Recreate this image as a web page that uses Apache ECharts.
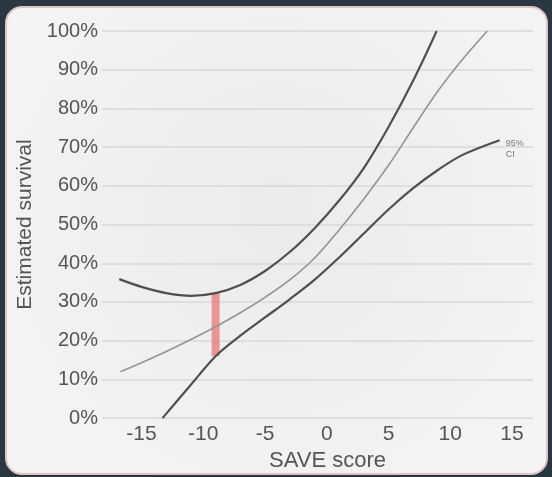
<!DOCTYPE html>
<html>
<head>
<meta charset="utf-8">
<script src="https://cdn.jsdelivr.net/npm/echarts@6/dist/echarts.min.js"></script>
<style>
  html, body { margin: 0; padding: 0; background: #283740; }
  #chart { width: 552px; height: 477px; }
</style>
</head>
<body>
<div id="chart"></div>
<script>
// SAVE score vs estimated survival (%), with 95% confidence band
const upperX = [-16.8, -15, -13, -11, -9, -7, -5, -3, -1, 1, 3, 5, 7, 8.9];
const upperY = [35.9, 33.9, 32.3, 31.6, 32.3, 34.4, 38.0, 42.9, 49.0, 56.2, 64.6, 75.2, 87.2, 100];

const estX = [-16.7, -15, -13, -11, -9, -7, -5, -3, -1, 1, 3, 5, 7, 9, 11, 13];
const estY = [12.0, 14.3, 17.2, 20.3, 23.6, 27.2, 31.2, 35.7, 41.3, 48.6, 56.6, 65.3, 75.0, 84.5, 92.7, 100];

const lowerX = [-13.3, -11, -9, -7, -5, -3, -1, 1, 3, 5, 7, 9, 11, 14];
const lowerY = [0, 8.6, 16.0, 21.3, 26.0, 30.7, 35.7, 41.5, 47.7, 53.9, 59.4, 64.1, 68.0, 71.8];

// interval marker at SAVE = -9, spanning the confidence band
const markerX = [-9, -9];
const markerY = [16.0, 32.3];

const xTicks = [-15, -10, -5, 0, 5, 10, 15];

const pairs = (xs, ys) => xs.map((x, i) => [x, ys[i]]);

const chart = echarts.init(document.getElementById('chart'), null, { renderer: 'canvas' });

const font = '"Liberation Sans", Arial, Helvetica, sans-serif';

const curve = (name, xs, ys, color, width, z) => ({
  name,
  type: 'line',
  smooth: 0.35,
  data: pairs(xs, ys),
  symbol: 'none',
  lineStyle: { color, width },
  z
});

const lower = curve('Lower 95% CI', lowerX, lowerY, '#4f4f4f', 2.2, 3);
lower.endLabel = {
  show: true,
  formatter: '95%\nCI',
  color: '#777',
  fontSize: 9,
  lineHeight: 11,
  fontFamily: font,
  distance: 6,
  offset: [0, 9]
};

chart.setOption({
  backgroundColor: '#283740',
  animation: false,
  graphic: [{
    type: 'rect',
    z: -10,
    silent: true,
    shape: { x: 6, y: 7, width: 541, height: 467, r: 16 },
    style: {
      fill: new echarts.graphic.RadialGradient(0.5, 0.45, 0.7, [
        { offset: 0, color: '#ebebeb' },
        { offset: 1, color: '#f4f4f4' }
      ]),
      stroke: '#e2c3c3',
      lineWidth: 2
    }
  }],
  grid: { left: 102, right: 19, top: 31, bottom: 56, containLabel: false },
  xAxis: {
    type: 'value',
    min: -18.2,
    max: 16.7,
    axisLine: { show: false },
    axisTick: { show: false },
    splitLine: { show: false },
    axisLabel: {
      customValues: xTicks,
      color: '#555',
      fontSize: 21,
      fontFamily: font,
      margin: 6
    },
    name: 'SAVE score',
    nameLocation: 'middle',
    nameGap: 30,
    nameTextStyle: { color: '#555', fontSize: 22, fontFamily: font, padding: [0, 0, 0, 20] }
  },
  yAxis: {
    type: 'value',
    min: 0,
    max: 100,
    interval: 10,
    axisLine: { show: false },
    axisTick: { show: false },
    splitLine: { lineStyle: { color: '#d6dadd', width: 1.5 } },
    axisLabel: {
      formatter: '{value}%',
      color: '#555',
      fontSize: 20,
      fontFamily: font,
      margin: 4
    },
    name: 'Estimated survival',
    nameLocation: 'middle',
    nameGap: 58,
    nameTextStyle: { color: '#555', fontSize: 21, fontFamily: font }
  },
  series: [
    {
      name: 'Marker',
      type: 'line',
      data: pairs(markerX, markerY),
      symbol: 'none',
      lineStyle: { color: '#e98a88', width: 8, opacity: 0.9, cap: 'butt' },
      z: 1
    },
    curve('Upper 95% CI', upperX, upperY, '#4f4f4f', 2.2, 3),
    curve('Estimate', estX, estY, '#949494', 1.6, 2),
    lower
  ]
});
</script>
</body>
</html>
